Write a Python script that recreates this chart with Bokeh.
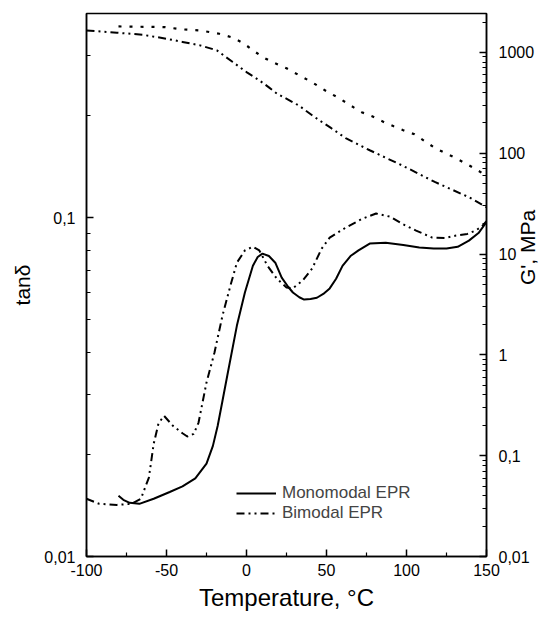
import math
from bokeh.plotting import figure
from bokeh.models import (Range1d, LogAxis, LogScale, FixedTicker, Legend,
                          LegendItem, CustomJSTickFormatter)
from bokeh.embed import file_html
from bokeh.resources import INLINE

# ---- data ----
mono_tan_T = [-80, -77, -73, -67, -58, -48, -40, -32, -25, -21, -18, -15, -12, -6, -1, 4, 7, 10,
              14, 18, 22, 26, 29, 33, 36, 40, 44, 48, 52, 56, 60, 65, 70, 77, 87, 98, 108, 117,
              125, 132, 139, 145, 150]
mono_tan = [0.0151, 0.0147, 0.0144, 0.0143, 0.0148, 0.0155, 0.0161, 0.0170, 0.0188, 0.0212,
            0.0243, 0.0288, 0.0342, 0.048, 0.0601, 0.0721, 0.0765, 0.0783, 0.0770, 0.0736,
            0.0665, 0.0625, 0.0601, 0.0582, 0.0573, 0.0575, 0.0580, 0.0595, 0.0618, 0.066,
            0.072, 0.077, 0.080, 0.0838, 0.0843, 0.0830, 0.0816, 0.0810, 0.0810, 0.0820,
            0.0855, 0.0900, 0.0970]

bi_tan_T = [-100, -92, -81, -72, -66, -61, -58, -55, -51.5, -46, -40, -37, -33, -30, -25, -20,
            -15, -10, -6, -1, 4, 8, 13, 19, 25, 29, 35, 41, 47, 52, 62, 72, 81, 90, 97, 106,
            116, 124, 131, 138, 143, 147, 150]
bi_tan = [0.0148, 0.0143, 0.0142, 0.0143, 0.0148, 0.0171, 0.0215, 0.0247, 0.0260, 0.0243,
          0.0231, 0.0226, 0.0230, 0.0248, 0.0326, 0.040, 0.0514, 0.0631, 0.0736, 0.080, 0.082,
          0.080, 0.0722, 0.066, 0.0622, 0.0619, 0.0651, 0.0707, 0.081, 0.0873, 0.0934, 0.0990,
          0.1028, 0.1005, 0.096, 0.0915, 0.0873, 0.0870, 0.0885, 0.0895, 0.0915, 0.094, 0.0975]

mono_G_T = [-80, -70, -60, -51, -40, -29, -17, -9, -2, 4, 10, 17, 25, 33, 41, 50, 57, 67, 72,
            78.5, 86, 92, 98, 105, 118, 131, 139, 150]
mono_G = [1808, 1800, 1790, 1780, 1690, 1650, 1530, 1409, 1236, 1050, 900, 790, 695, 592, 505,
          411, 358, 285, 255, 232, 203, 185, 169, 154, 112, 89, 76, 60]

bi_G_T = [-100, -81, -65, -50, -40, -29, -18.5, -8.6, 0, 8, 14, 19, 26, 33, 41, 45.5, 53, 62,
          77, 97, 118, 139, 150]
bi_G = [1652, 1567, 1496, 1365, 1270, 1173, 1047, 802, 638, 528, 450, 390, 340, 295, 238, 212,
        177, 141, 107, 76, 51.6, 36.6, 29.2]

x_ticks = [-100, -50, 0, 50, 100, 150]
x_minor = [-75, -25, 25, 75, 125]
tan_ticks = [0.01, 0.1]
tan_minor = [0.02, 0.03, 0.04, 0.05, 0.06, 0.07, 0.08, 0.09, 0.2, 0.3]
g_ticks = [0.01, 0.1, 1, 10, 100, 1000]
g_minor = [m * d for d in [0.01, 0.1, 1, 10, 100, 1000] for m in range(2, 10) if m * d < 2430]

FONT = "Liberation Sans"

p = figure(width=553, height=618, y_axis_type="log", output_backend="svg",
           toolbar_location=None, x_range=Range1d(-100, 150), y_range=Range1d(0.01, 0.4),
           min_border_left=86, min_border_right=65, min_border_top=13, min_border_bottom=62)
p.extra_y_ranges = {"g": Range1d(0.01, 2430)}
p.extra_y_scales = {"g": LogScale()}
p.grid.visible = False
p.outline_line_color = "black"
p.outline_line_width = 1.5
p.background_fill_color = "white"
p.border_fill_color = "white"

fmt = CustomJSTickFormatter(code="return tick.toString().replace('.', ',')")

gaxis = LogAxis(y_range_name="g")
p.add_layout(gaxis, "right")

xax = p.below[0]
lax = p.left[0]

for ax in [xax, lax, gaxis]:
    ax.axis_line_width = 1.5
    ax.axis_line_color = "black"
    ax.major_tick_line_width = 1.5
    ax.minor_tick_line_width = 1.2
    ax.major_tick_in = 7
    ax.major_tick_out = 0
    ax.minor_tick_in = 4
    ax.minor_tick_out = 0
    ax.major_label_text_font = FONT
    ax.major_label_text_font_size = "16px"
    ax.major_label_text_color = "black"
    ax.axis_label_text_font = FONT
    ax.axis_label_text_font_style = "normal"
    ax.axis_label_text_color = "black"
    ax.formatter = fmt

xax.ticker = FixedTicker(ticks=x_ticks, minor_ticks=x_minor)
xax.major_label_standoff = 7
xax.axis_label = "Temperature, °C"
xax.axis_label_text_font_size = "24px"
xax.axis_label_standoff = 5

lax.ticker = FixedTicker(ticks=tan_ticks, minor_ticks=tan_minor)
lax.major_label_standoff = 11
lax.axis_label = "tanδ"
lax.axis_label_text_font_size = "21px"
lax.axis_label_standoff = 7

gaxis.ticker = FixedTicker(ticks=g_ticks, minor_ticks=g_minor)
gaxis.major_label_standoff = 12
gaxis.major_label_orientation = "horizontal"
gaxis.axis_label = "G', MPa"
gaxis.axis_label_text_font_size = "21px"
gaxis.axis_label_standoff = -10
gaxis.axis_label_orientation = math.pi / 2

r_mono = p.line(mono_tan_T, mono_tan, line_color="black", line_width=2)
r_bi = p.line(bi_tan_T, bi_tan, line_color="black", line_width=2, line_dash="8 4 2 4 2 4")
p.line(mono_G_T, mono_G, y_range_name="g", line_color="black", line_width=2.2,
       line_dash="3 8")
p.line(bi_G_T, bi_G, y_range_name="g", line_color="black", line_width=2,
       line_dash="8 4 2 4 2 4")

legend = Legend(items=[LegendItem(label="Monomodal EPR", renderers=[r_mono]),
                       LegendItem(label="Bimodal EPR", renderers=[r_bi])],
                location=(150, 33), padding=0, margin=0, spacing=0,
                glyph_width=40, glyph_height=20, label_height=20, label_standoff=6,
                label_text_font=FONT, label_text_font_size="17px",
                border_line_color=None, background_fill_alpha=0)
p.add_layout(legend, "center")

open("out.html", "w").write(file_html(p, INLINE))
